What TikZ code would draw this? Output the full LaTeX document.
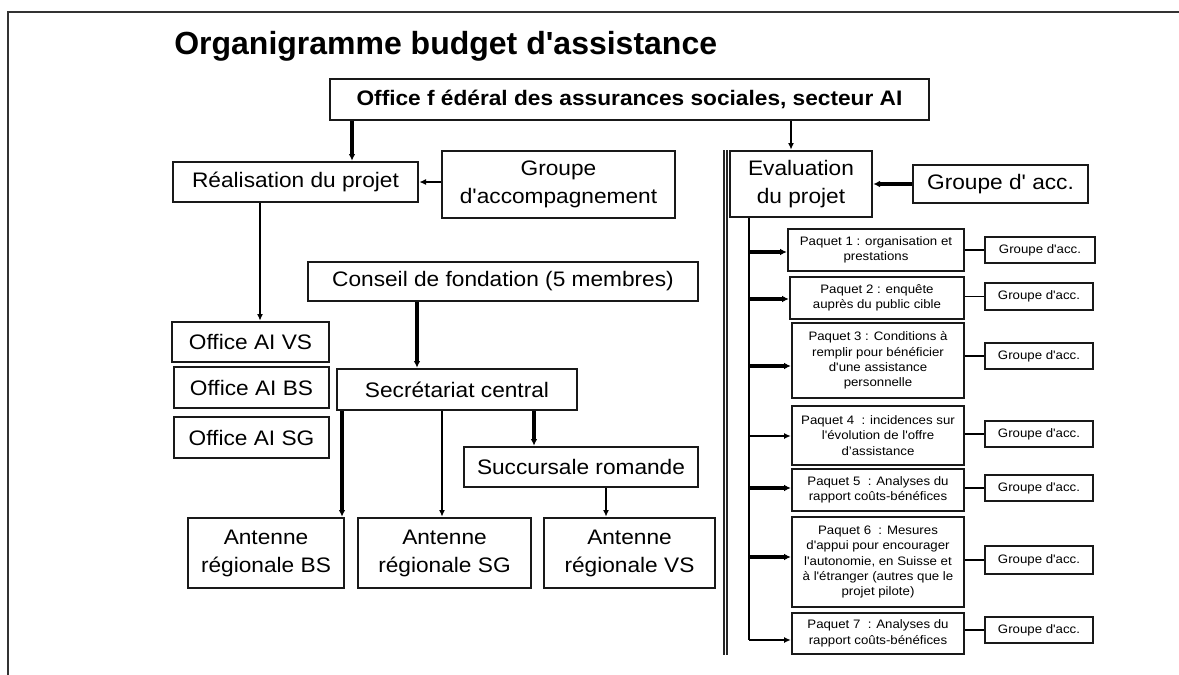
\documentclass[tikz,border=0pt]{standalone}
\usepackage{fontspec}
\setmainfont{Liberation Sans}[Ligatures=TeXOff, FakeStretch=1.08]
\newfontfamily\titlefont{Liberation Sans}[Ligatures=TeXOff]
\usetikzlibrary{arrows.meta}
\tikzset{
  wh/.style 2 args={minimum width=#1*0.75pt, minimum height=#2*0.75pt},
  box/.style={draw=black!90, line width=2pt, inner sep=0pt, align=center,
    font=\fontsize{15.75}{21}\selectfont},
  sbox/.style={draw=black!90, line width=1.8pt, inner sep=0pt, align=center,
    font=\fontsize{9.2}{11.6}\selectfont},
  thk/.style={line width=2.8pt, -{Latex[length=5pt,width=5pt]}},
  thn/.style={line width=1.1pt, -{Latex[length=5pt,width=4.5pt]}},
  lnk/.style={line width=1.4pt},
  trunkline/.style={line width=1.6pt},
  frameline/.style={line width=1.8pt, draw=black!80},
  sepline/.style={line width=1pt, draw=black!85},
}
\begin{document}
\begin{tikzpicture}[x=0.75pt,y=-0.75pt]
\useasboundingbox (0,0) rectangle (1179,675);
% frame
\draw[frameline] (8,675) -- (8,12) -- (1179,12);
% title
\node[anchor=base west, inner sep=0pt, font=\titlefont\bfseries\fontsize{24}{28}\selectfont] (title) at (174,54) {Organigramme budget d'assistance};

% top
\node[box, wh={599}{41}, font=\bfseries\fontsize{15.75}{21}\selectfont] (ofas) at (629.5,99.5) {Office f édéral des assurances sociales, secteur AI};

% left part
\node[box, wh={245}{40}] (real) at (295.5,182) {Réalisation du projet};
\node[box, wh={233}{67}] (gacc) at (558.5,184.5) {Groupe\\d'accompagnement};
\node[box, wh={390}{39}] (cons) at (503,281.5) {Conseil de fondation (5 membres)};
\node[box, wh={157}{40}] (oivs) at (250.5,342) {Office AI VS};
\node[box, wh={155}{41}] (oibs) at (251.5,387.5) {Office AI BS};
\node[box, wh={155}{41}] (oisg) at (251.5,437.5) {Office AI SG};
\node[box, wh={240}{41}] (secr) at (457,389.5) {Secrétariat central};
\node[box, wh={234}{40}] (succ) at (581,467) {Succursale romande};
\node[box, wh={156}{70}] (abs) at (266,553) {Antenne\\régionale BS};
\node[box, wh={173}{70}] (asg) at (444.5,553) {Antenne\\régionale SG};
\node[box, wh={171}{70}] (avs) at (629.5,553) {Antenne\\régionale VS};

% separator
\draw[sepline] (724,150) -- (724,655);
\draw[sepline] (727,150) -- (727,655);

% right part
\node[box, wh={142}{66}] (eval) at (801,184) {Evaluation\\du projet};
\node[box, wh={175}{38}] (gacc2) at (1000.5,184) {Groupe d' acc.};

\node[sbox, wh={176}{42}] (p1) at (876,250) {Paquet 1 : organisation et\\prestations};
\node[sbox, wh={174}{42}] (p2) at (877,298) {Paquet 2 : enquête\\auprès du public cible};
\node[sbox, wh={172}{75}] (p3) at (878,360.5) {Paquet 3 : Conditions à\\remplir pour bénéficier\\d'une assistance\\personnelle};
\node[sbox, wh={172}{59}] (p4) at (878,435.5) {Paquet 4~ : incidences sur\\l'évolution de l'offre\\d’assistance};
\node[sbox, wh={172}{42}] (p5) at (878,490) {Paquet 5~ : Analyses du\\rapport coûts-bénéfices};
\node[sbox, wh={172}{90}] (p6) at (878,562) {Paquet 6~ : Mesures\\d'appui pour encourager\\l'autonomie, en Suisse et\\à l'étranger (autres que le\\projet pilote)};
\node[sbox, wh={172}{41}] (p7) at (878,633.5) {Paquet 7~ : Analyses du\\rapport coûts-bénéfices};

\node[sbox, wh={110}{26}] (g1) at (1040,250) {Groupe d'acc.};
\node[sbox, wh={108}{27}] (g2) at (1039,296.5) {Groupe d'acc.};
\node[sbox, wh={108}{26}] (g3) at (1039,356) {Groupe d'acc.};
\node[sbox, wh={108}{26}] (g4) at (1039,434) {Groupe d'acc.};
\node[sbox, wh={108}{26}] (g5) at (1039,488) {Groupe d'acc.};
\node[sbox, wh={108}{28}] (g6) at (1039,560) {Groupe d'acc.};
\node[sbox, wh={108}{26}] (g7) at (1039,630) {Groupe d'acc.};

% connectors, left
\coordinate (x1) at (352,0);
\draw[thk] (ofas.south -| x1) -- (real.north -| x1);
\coordinate (x2) at (791,0);
\draw[thn] (ofas.south -| x2) -- (eval.north -| x2);
\draw[thn] (gacc.west |- real.east) -- (real.east);
\draw[thk] (gacc2.west) -- (gacc2.west -| eval.east);
\coordinate (x3) at (260,0);
\draw[thn] (real.south -| x3) -- (oivs.north -| x3);
\coordinate (x4) at (417,0);
\draw[thk] (cons.south -| x4) -- (secr.north -| x4);
\coordinate (x5) at (342,0);
\draw[thk] (secr.south -| x5) -- (abs.north -| x5);
\coordinate (x6) at (442,0);
\draw[thn] (secr.south -| x6) -- (asg.north -| x6);
\coordinate (x7) at (534,0);
\draw[thk] (secr.south -| x7) -- (succ.north -| x7);
\coordinate (x8) at (606,0);
\draw[thn] (succ.south -| x8) -- (avs.north -| x8);

% trunk and packages
\coordinate (t1) at (749,252);
\coordinate (t2) at (749,299);
\coordinate (t3) at (749,366);
\coordinate (t4) at (749,436);
\coordinate (t5) at (749,488);
\coordinate (t6) at (749,557);
\coordinate (t7) at (749,640);
\draw[trunkline] (eval.south -| t1) -- (t7);
\draw[thk] (t1) -- (t1 -| p1.west);
\draw[thk] (t2) -- (t2 -| p2.west);
\draw[thk] (t3) -- (t3 -| p3.west);
\draw[thn] (t4) -- (t4 -| p4.west);
\draw[thk] (t5) -- (t5 -| p5.west);
\draw[thk] (t6) -- (t6 -| p6.west);
\draw[thn] (t7) -- (t7 -| p7.west);

\draw[lnk] (g1.west) -- (g1.west -| p1.east);
\draw[lnk] (g2.west) -- (g2.west -| p2.east);
\draw[lnk] (g3.west) -- (g3.west -| p3.east);
\draw[lnk] (g4.west) -- (g4.west -| p4.east);
\draw[lnk] (g5.west) -- (g5.west -| p5.east);
\draw[lnk] (g6.west) -- (g6.west -| p6.east);
\draw[lnk] (g7.west) -- (g7.west -| p7.east);
\end{tikzpicture}
\end{document}
